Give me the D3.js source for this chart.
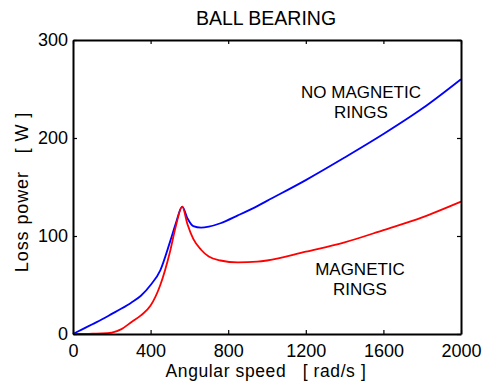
<!DOCTYPE html>
<html>
<head>
<meta charset="utf-8">
<script src="https://cdn.jsdelivr.net/npm/d3@7"></script>
<style>
  body { margin: 0; background: #fff; }
  svg text { font-family: "Liberation Sans", Arial, sans-serif; fill: #000; }
</style>
</head>
<body>
<svg id="canvas" width="482" height="385"></svg>
<script>
// angular speed [rad/s]
let speed = [0, 50, 100, 150, 200, 250, 300, 350, 400, 450, 500, 530, 563, 590, 620, 660, 700, 760, 850, 950, 1000, 1200, 1400, 1600, 1800, 2000];

// loss power [W], no magnetic rings
let noMagnetic = [0, 5, 10, 15, 20.5, 26, 32, 39, 50, 65, 94, 113, 130, 118, 110, 108.5, 109.5, 113, 121, 130.5, 135.8, 157, 180, 204, 230, 260];

// loss power [W], magnetic rings
let magnetic = [0, 0, 0.3, 0.5, 1.5, 5, 12, 19, 29, 50, 84, 110, 130, 112, 97, 86, 79, 75, 73, 73.8, 75, 84, 93.5, 106, 119, 135];

let xTicks = [0, 400, 800, 1200, 1600, 2000];
let yTicks = [0, 100, 200, 300];

let canvas = d3.select("#canvas");

let margin = { left: 73, top: 40 };
let width = 388;
let height = 294;

let xScale = d3.scaleLinear().domain([0, 2000]).range([0, width]);
let yScale = d3.scaleLinear().domain([0, 300]).range([height, 0]);

let plot = canvas
  .append("g")
  .attr("transform", "translate(" + margin.left + ", " + margin.top + ")");

// curves
let drawCurve = (values, colour) => {
  let line = d3
    .line()
    .x((d, i) => xScale(speed[i]))
    .y((d) => yScale(d))
    .curve(d3.curveMonotoneX);

  plot
    .append("path")
    .datum(values)
    .attr("d", line)
    .attr("fill", "none")
    .attr("stroke", colour)
    .attr("stroke-width", 1.8);
};

drawCurve(noMagnetic, "#0000ff");
drawCurve(magnetic, "#ff0000");

// axes, ticks pointing inwards on all four sides
let fmt = d3.format("d");
let xAxis = d3.axisBottom(xScale).tickValues(xTicks).tickFormat(fmt).tickSizeInner(-4).tickSizeOuter(0).tickPadding(10);
let yAxis = d3.axisLeft(yScale).tickValues(yTicks).tickFormat(fmt).tickSizeInner(-4).tickSizeOuter(0).tickPadding(5);
let topAxis = d3.axisTop(xScale).tickValues(xTicks).tickSizeInner(-4).tickSizeOuter(0).tickFormat("");
let rightAxis = d3.axisRight(yScale).tickValues(yTicks).tickSizeInner(-4).tickSizeOuter(0).tickFormat("");

let styleAxis = (g) => {
  g.selectAll(".domain").attr("stroke", "#000").attr("stroke-width", 2);
  g.selectAll(".tick line").attr("stroke", "#000").attr("stroke-width", 1.2);
  g.selectAll("text").style("font-size", "18px").attr("fill", "#000");
};

plot.append("g").attr("transform", "translate(0, " + height + ")").call(xAxis).call(styleAxis);
plot.append("g").call(yAxis).call(styleAxis);
plot.append("g").call(topAxis).call(styleAxis);
plot.append("g").attr("transform", "translate(" + width + ", 0)").call(rightAxis).call(styleAxis);

// title and axis labels
canvas
  .append("text")
  .text("BALL BEARING")
  .attr("x", 266)
  .attr("y", 25)
  .attr("text-anchor", "middle")
  .style("font-size", "19.5px");

canvas
  .append("text")
  .text("Angular speed   [ rad/s ]")
  .attr("x", 266)
  .attr("y", 377)
  .attr("text-anchor", "middle")
  .style("font-size", "17.5px")
  .style("letter-spacing", "0.6px")
  .style("white-space", "pre");

canvas
  .append("text")
  .text("Loss power   [ W ]")
  .attr("transform", "translate(28, 192) rotate(-90)")
  .attr("text-anchor", "middle")
  .style("font-size", "18px")
  .style("letter-spacing", "0.9px")
  .style("white-space", "pre");

// curve annotations
let annotate = (lines, x, y) => {
  lines.forEach((t, i) => {
    canvas
      .append("text")
      .text(t)
      .attr("x", x)
      .attr("y", y + i * 20)
      .attr("text-anchor", "middle")
      .style("font-size", "17px");
  });
};

annotate(["NO MAGNETIC", "RINGS"], 361, 98);
annotate(["MAGNETIC", "RINGS"], 360, 275);
</script>
</body>
</html>
